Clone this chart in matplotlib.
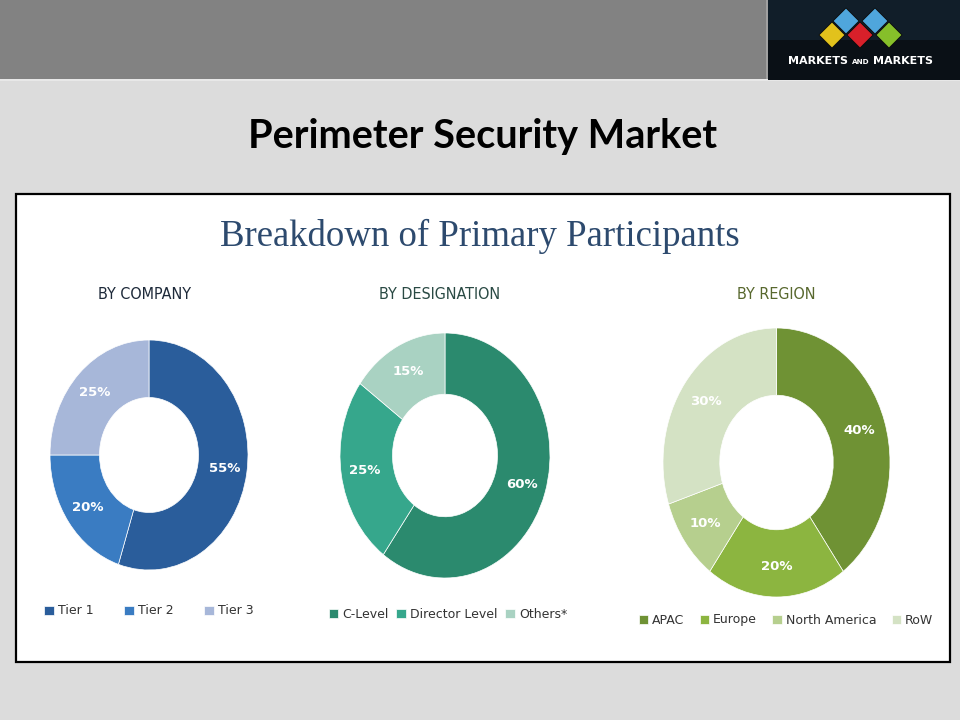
import matplotlib
matplotlib.use("Agg")
import matplotlib.pyplot as plt
from matplotlib.patches import Rectangle, Polygon

# ---------------- data ----------------
company_labels = ["Tier 1", "Tier 2", "Tier 3"]
company_values = [55, 20, 25]
designation_labels = ["C-Level", "Director Level", "Others*"]
designation_values = [60, 25, 15]
region_labels = ["APAC", "Europe", "North America", "RoW"]
region_values = [40, 20, 10, 30]

company_colors = ["#2a5d9b", "#3a7cc2", "#a7b7d9"]
designation_colors = ["#2b8a6e", "#36a78c", "#a9d2c2"]
region_colors = ["#6f9234", "#8cb540", "#b6cf8e", "#d4e2c4"]

W, H = 960, 720
fig = plt.figure(figsize=(W / 100, H / 100), dpi=100)
fig.patch.set_facecolor("#dcdcdc")

# background axes in pixel coordinates
bg = fig.add_axes([0, 0, 1, 1])
bg.set_xlim(0, W)
bg.set_ylim(H, 0)
bg.axis("off")

# top bar
bg.add_patch(Rectangle((0, 0), 768, 79, facecolor="#828282", edgecolor="none"))
bg.add_patch(Rectangle((0, 79), W, 2, facecolor="#e8e8e8", edgecolor="none"))
bg.add_patch(Rectangle((766, 0), 2, 79, facecolor="#a0a0a0", edgecolor="none"))
# logo box
bg.add_patch(Rectangle((768, 0), 192, 80, facecolor="#0a1016", edgecolor="none"))
bg.add_patch(Rectangle((768, 0), 192, 40, facecolor="#14222e", edgecolor="none", alpha=0.8))


def diamond(cx, cy, r, color):
    bg.add_patch(Polygon([(cx, cy - r), (cx + r, cy), (cx, cy + r), (cx - r, cy)],
                         closed=True, facecolor=color, edgecolor="#0a0a0a", linewidth=0.6))


diamond(846, 21, 13, "#4fa6dc")
diamond(875, 21, 13, "#4fa6dc")
diamond(832, 35, 13, "#e2c21c")
diamond(860, 35, 13, "#d8202a")
diamond(889, 35, 13, "#86bf2a")
logo_kw = dict(va="center", color="white", fontweight="bold", family="DejaVu Sans")
bg.text(848, 61, "MARKETS", ha="right", fontsize=8, **logo_kw)
bg.text(860.5, 62, "AND", ha="center", fontsize=5.2, **logo_kw)
bg.text(873, 61, "MARKETS", ha="left", fontsize=8, **logo_kw)

# main title
bg.text(483, 148, "Perimeter Security Market", ha="center", va="baseline",
        fontsize=28.5, fontweight="bold", family="Lato", color="black")

# panel
bg.add_patch(Rectangle((16, 194), 934, 468, facecolor="white",
                       edgecolor="black", linewidth=1.6))
bg.text(480, 246, "Breakdown of Primary Participants", ha="center", va="baseline",
        fontsize=26.5, family="Liberation Serif", color="#2d4a6e")

sub_kw = dict(ha="center", va="baseline", fontsize=11.5, family="DejaVu Sans",
              fontstretch="condensed")
bg.text(145, 299, "BY COMPANY", color="#1e2a3a", **sub_kw)
bg.text(440, 299, "BY DESIGNATION", color="#2a4a44", **sub_kw)
bg.text(776, 299, "BY REGION", color="#58682e", **sub_kw)


def donut(box, values, colors, labels, legend_center, colspacing):
    x0, y0, x1, y1 = box
    ax = fig.add_axes([x0 / W, 1 - y1 / H, (x1 - x0) / W, (y1 - y0) / H])
    wedges, _, autotexts = ax.pie(
        values, colors=colors, startangle=90, counterclock=False,
        autopct=lambda p: f"{p:.0f}%", pctdistance=0.77,
        wedgeprops=dict(width=0.5, edgecolor="white", linewidth=0.5),
        textprops=dict(color="white", fontsize=9.5, fontweight="bold"))
    ax.set_aspect("auto")
    ax.set_xlim(-1.0, 1.0)
    ax.set_ylim(-1.0, 1.0)
    ax.axis("off")
    bg.legend(wedges, labels, loc="center", bbox_to_anchor=legend_center,
              bbox_transform=bg.transData, ncol=len(labels), frameon=False,
              fontsize=9, handlelength=0.75, handleheight=0.75,
              handletextpad=0.35, columnspacing=colspacing,
              labelcolor="#333333")
    return ax


donut((50, 340, 248, 570), company_values, company_colors, company_labels,
      (149, 611), 2.45)
leg1 = bg.get_legend()
bg.add_artist(leg1)
donut((340, 333, 550, 578), designation_values, designation_colors,
      designation_labels, (448, 614), 0.6)
leg2 = bg.get_legend()
bg.add_artist(leg2)
donut((663, 328, 890, 597), region_values, region_colors, region_labels,
      (786, 620), 1.2)

fig.savefig("out.png", dpi=100, facecolor=fig.get_facecolor())
